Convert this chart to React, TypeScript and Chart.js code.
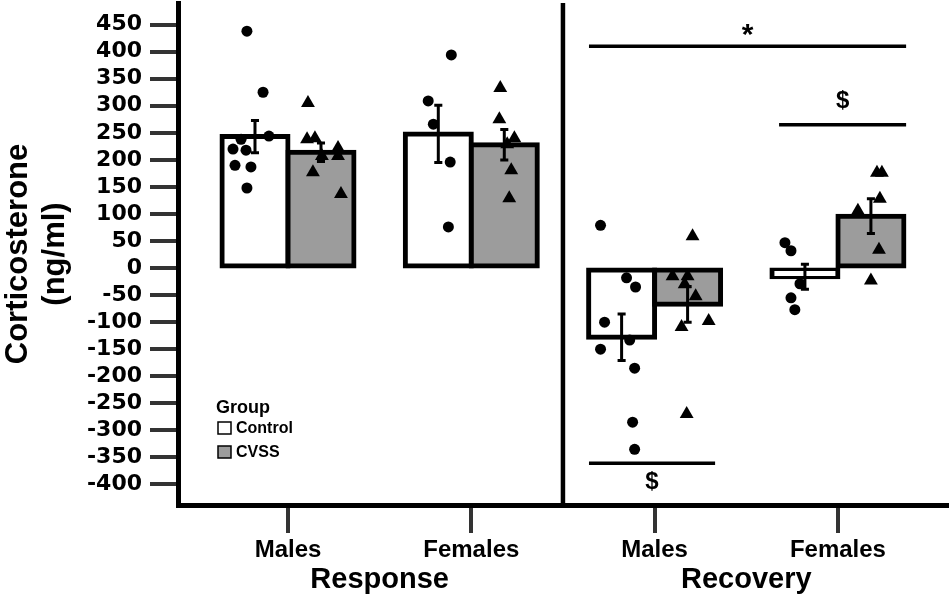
import { useEffect, useRef } from "react";
import { Chart, registerables, type Plugin } from "chart.js";

Chart.register(...registerables);

// categories along the x axis (index 0..3)
const periods = ["Response", "Recovery"];
const sexes = ["Males", "Females", "Males", "Females"];
const groups = ["Control", "CVSS"];
const legendTitle = "Group";

const yTicks = [450, 400, 350, 300, 250, 200, 150, 100, 50, 0, -50, -100, -150, -200, -250, -300, -350, -400];
const yMin = -438;
const yMax = 490;
const xMin = -0.6;
const xMax = 3.606;

// group means and SEM, order: Response M, Response F, Recovery M, Recovery F
const controlMean = [243, 248, -128, -16];
const cvssMean = [214, 228, -67, 96];
const controlSem = [30, 53, 43, 23];
const cvssSem = [17, 28, 33, 32];

// individual animals (values) and their horizontal jitter (x units)
const controlPts = [
  [438, 325, 244, 238, 220, 218, 190, 187, 148],
  [394, 309, 266, 196, 76],
  [79, -18, -35, -100, -133, -150, -185, -285, -335],
  [47, 32, -29, -55, -77],
];
const controlJitter = [
  [-0.044, 0.044, 0.076, -0.076, -0.12, -0.049, -0.109, -0.022, -0.044],
  [0.071, -0.055, -0.027, 0.065, 0.055],
  [-0.115, 0.027, 0.076, -0.093, 0.044, -0.115, 0.071, 0.06, 0.071],
  [-0.109, -0.076, -0.027, -0.076, -0.055],
];
const cvssPts = [
  [305, 238, 240, 207, 222, 207, 177, 137],
  [333, 275, 240, 229, 181, 129],
  [59, -15, -15, -30, -52, -109, -98, -270],
  [176, 176, 128, 106, 34, -23],
];
const cvssJitter = [
  [-0.071, -0.076, -0.033, 0.005, 0.093, 0.093, -0.044, 0.109],
  [-0.022, -0.027, 0.055, 0.016, 0.038, 0.027],
  [0.027, -0.082, 0, -0.016, 0.044, -0.033, 0.115, -0.005],
  [0.033, 0.06, 0.049, -0.071, 0.044, 0],
];

// significance brackets
const sigLabel = ["*", "$", "$"];
const sigFrom = [1.642, 2.679, 1.642];
const sigTo = [3.372, 3.372, 2.33];
const sigY = [410, 265, -361];
const sigTextY = [430, 308, -396];

const OFF = 0.18;
const CAP = 0.022;
const groupFill = ["#ffffff", "#9c9c9c"];
const FONT = "'Liberation Sans', Arial, sans-serif";

type P = { x: number; y: number | null };

const bars: P[] = [];
const barColors: string[] = [];
const errs: P[] = [];
const circles: P[] = [];
const triangles: P[] = [];
const sigLines: P[] = [];

[controlMean, cvssMean].forEach((means, g) => {
  const sem = g ? cvssSem : controlSem;
  means.forEach((m, i) => {
    const x = i + (g ? OFF : -OFF);
    bars.push({ x, y: m });
    barColors.push(groupFill[g]);
    const hi = m + sem[i];
    const lo = m - sem[i];
    errs.push(
      { x: x - CAP, y: hi }, { x: x + CAP, y: hi }, { x, y: null },
      { x, y: hi }, { x, y: lo }, { x, y: null },
      { x: x - CAP, y: lo }, { x: x + CAP, y: lo }, { x, y: null }
    );
  });
});
controlPts.forEach((vals, i) =>
  vals.forEach((v, k) => circles.push({ x: i - OFF + controlJitter[i][k], y: v }))
);
cvssPts.forEach((vals, i) =>
  vals.forEach((v, k) => triangles.push({ x: i + OFF + cvssJitter[i][k], y: v }))
);
sigY.forEach((y, i) => {
  sigLines.push({ x: sigFrom[i], y }, { x: sigTo[i], y }, { x: sigTo[i], y: null });
});

const overlay: Plugin = {
  id: "overlay",
  afterDatasetsDraw(chart) {
    const { ctx } = chart;
    const x = chart.scales.x;
    const y = chart.scales.y;
    ctx.save();
    ctx.fillStyle = "#000";
    ctx.textAlign = "center";
    ctx.textBaseline = "middle";
    sigLabel.forEach((t, i) => {
      ctx.font = t === "*" ? `bold 30px ${FONT}` : `bold 24px ${FONT}`;
      ctx.fillText(t, x.getPixelForValue((sigFrom[i] + sigTo[i]) / 2), y.getPixelForValue(sigTextY[i]));
    });
    // legend
    ctx.textAlign = "left";
    ctx.font = `bold 18px ${FONT}`;
    ctx.fillText(legendTitle, 216, 408);
    ctx.font = `bold 16px ${FONT}`;
    groups.forEach((g, i) => {
      const top = 422 + i * 24;
      ctx.fillStyle = groupFill[i];
      ctx.fillRect(218, top, 13, 12);
      ctx.strokeStyle = "#000";
      ctx.lineWidth = 1.5;
      ctx.strokeRect(218, top, 13, 12);
      ctx.fillStyle = "#000";
      ctx.fillText(g, 236, top + 7);
    });
    ctx.restore();
  },
};

export default function App() {
  const canvasRef = useRef<HTMLCanvasElement>(null);

  useEffect(() => {
    const canvas = canvasRef.current;
    if (!canvas) return;

    Chart.defaults.font.family = FONT;
    Chart.defaults.color = "#000";

    const chart = new Chart(canvas, {
      type: "scatter",
      data: {
        datasets: [
          {
            type: "scatter",
            data: circles,
            pointStyle: "circle",
            pointRadius: 5.5,
            backgroundColor: "#000",
            borderWidth: 0,
            order: 0,
          },
          {
            type: "scatter",
            data: triangles,
            pointStyle: "triangle",
            pointRadius: 8,
            backgroundColor: "#000",
            borderWidth: 0,
            order: 0,
          },
          {
            type: "line",
            data: errs,
            borderColor: "#000",
            borderWidth: 3,
            pointRadius: 0,
            spanGaps: false,
            order: 1,
          },
          {
            type: "line",
            data: sigLines,
            borderColor: "#000",
            borderWidth: 3.5,
            pointRadius: 0,
            spanGaps: false,
            order: 1,
          },
          {
            type: "bar",
            data: bars,
            backgroundColor: barColors,
            borderColor: "#000",
            borderWidth: 5,
            borderSkipped: false,
            inflateAmount: 2.5,
            barPercentage: 1,
            categoryPercentage: 1,
            order: 2,
          },
          {
            type: "line",
            data: [{ x: 1.5, y: yMin }, { x: 1.5, y: yMax }],
            borderColor: "#000",
            borderWidth: 4.5,
            pointRadius: 0,
            order: 3,
          },
        ] as any,
      },
      options: {
        responsive: false,
        animation: false,
        events: [],
        layout: { autoPadding: false, padding: { top: 3, left: 0, right: 0, bottom: 0 } },
        plugins: { legend: { display: false }, tooltip: { enabled: false } },
        scales: {
          x: {
            type: "linear",
            position: "bottom",
            min: xMin,
            max: xMax,
            offset: false,
            afterBuildTicks: (s: any) => {
              s.ticks = sexes.map((_, i) => ({ value: i }));
            },
            afterFit: (s: any) => {
              s.height = 55;
              s.paddingLeft = 0;
              s.paddingRight = 0;
            },
            grid: { offset: false, drawOnChartArea: false, drawTicks: true, tickLength: 28, lineWidth: 4, color: "#333" },
            border: { display: true, color: "#000", width: 5 },
            ticks: {
              autoSkip: false,
              maxRotation: 0,
              padding: 3,
              font: { size: 24, weight: "bold" },
              callback: (v: any) => sexes[v] ?? "",
            },
          },
          x2: {
            type: "linear",
            position: "bottom",
            min: xMin,
            max: xMax,
            offset: false,
            afterBuildTicks: (s: any) => {
              s.ticks = periods.map((_, i) => ({ value: 0.5 + 2 * i }));
            },
            afterFit: (s: any) => {
              s.height = 39;
              s.paddingLeft = 0;
              s.paddingRight = 0;
            },
            grid: { display: false, drawTicks: false },
            border: { display: false },
            ticks: {
              autoSkip: false,
              maxRotation: 0,
              padding: 3,
              font: { size: 29, weight: "bold" },
              callback: (v: any) => periods[(v - 0.5) / 2] ?? "",
            },
          },
          y: {
            type: "linear",
            min: yMin,
            max: yMax,
            afterBuildTicks: (s: any) => {
              s.ticks = yTicks.map((v) => ({ value: v }));
            },
            afterFit: (s: any) => {
              s.width = 178;
              s.paddingTop = 0;
              s.paddingBottom = 0;
            },
            grid: { drawOnChartArea: false, tickLength: 28, lineWidth: 4, color: "#333" },
            border: { display: true, color: "#000", width: 5 },
            ticks: {
              autoSkip: false,
              padding: 8,
              font: { family: "'DejaVu Sans'", size: 22, weight: "bold" },
              callback: (v: any) => String(v),
            },
            title: {
              display: true,
              text: ["Corticosterone", "(ng/ml)"],
              font: { size: 31, weight: "bold", lineHeight: 1.2 },
              padding: 0,
            },
          },
        },
      },
      plugins: [overlay],
    });

    return () => chart.destroy();
  }, []);

  return (
    <div style={{ position: "fixed", left: 0, top: 0, width: 949, height: 599, background: "#fff" }}>
      <canvas ref={canvasRef} width={949} height={599} style={{ display: "block" }} />
    </div>
  );
}
